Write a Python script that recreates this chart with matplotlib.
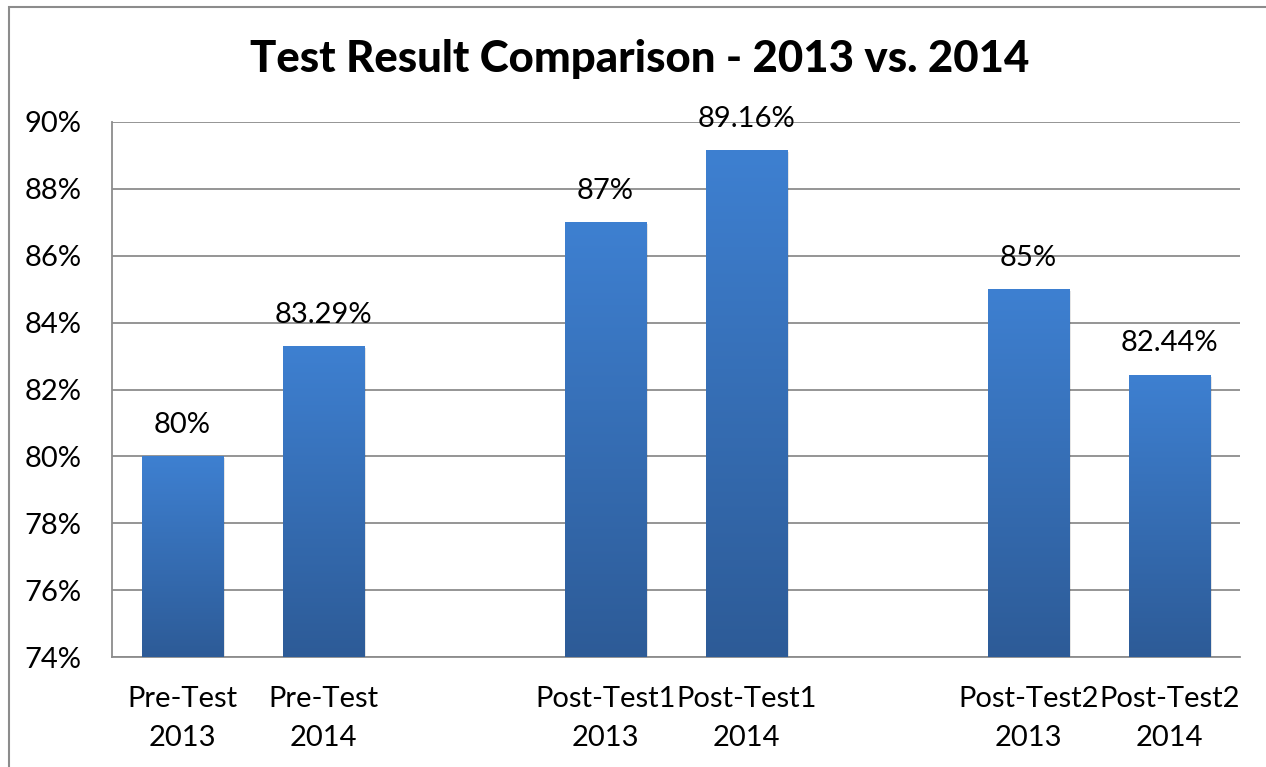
import matplotlib
matplotlib.use("Agg")
import matplotlib.pyplot as plt
import numpy as np
from matplotlib.colors import LinearSegmentedColormap
from matplotlib.patches import Rectangle

plt.rcParams['font.family'] = ['Lato', 'DejaVu Sans']

categories = ["Pre-Test\n2013", "Pre-Test\n2014", "", "Post-Test1\n2013", "Post-Test1\n2014",
              "", "Post-Test2\n2013", "Post-Test2\n2014"]
values = [80, 83.29, None, 87, 89.16, None, 85, 82.44]
value_labels = ["80%", "83.29%", "", "87%", "89.16%", "", "85%", "82.44%"]
y_ticks = [74, 76, 78, 80, 82, 84, 86, 88, 90]
y_tick_labels = ["74%", "76%", "78%", "80%", "82%", "84%", "86%", "88%", "90%"]
title = "Test Result Comparison - 2013 vs. 2014"

fig = plt.figure(figsize=(12.66, 7.67), dpi=100)
ax = fig.add_axes([112/1266, 1-657/767, (1240-112)/1266, (657-122)/767])

x = np.arange(len(categories))
heights = [v if v is not None else np.nan for v in values]
ymin = 74
bars = ax.bar(x, [h - ymin if not np.isnan(h) else 0 for h in heights], bottom=ymin,
              width=0.58, color='none', edgecolor='none', zorder=3)

cmap = LinearSegmentedColormap.from_list("g", ["#2D5B97", "#3E80D1"])
grad = np.linspace(0, 1, 256).reshape(-1, 1)
for b, h in zip(bars, heights):
    if np.isnan(h):
        continue
    x0, y0, w, hh = b.get_x(), b.get_y(), b.get_width(), b.get_height()
    sh = Rectangle((x0 + 0.012, y0 - 0.03), w, hh - 0.03, facecolor='#000000', alpha=0.10,
                   edgecolor='none', zorder=2)
    ax.add_patch(sh)
    im = ax.imshow(grad, extent=[x0, x0 + w, y0, y0 + hh], origin='lower', cmap=cmap,
                   aspect='auto', zorder=3, interpolation='bicubic')
    clip = Rectangle((x0, y0), w, hh, transform=ax.transData)
    im.set_clip_path(clip)

for xi, h, lab in zip(x, heights, value_labels):
    if np.isnan(h):
        continue
    ax.text(xi, h + 0.55, lab, ha='center', va='bottom', fontsize=21, color='black', zorder=4)

ax.set_xlim(-0.5, len(categories) - 0.5)
ax.set_ylim(74, 90)
ax.set_yticks(y_ticks)
ax.set_yticklabels(y_tick_labels, fontsize=21)
ax.set_xticks(x)
ax.set_xticklabels(categories, fontsize=21, linespacing=1.62)
ax.tick_params(axis='both', length=0)
ax.tick_params(axis='y', pad=22)
ax.tick_params(axis='x', pad=21)

ax.yaxis.grid(True, color='#8C8C8C', linewidth=1.3, zorder=0)
ax.set_axisbelow(True)
for s in ['top', 'right']:
    ax.spines[s].set_visible(False)
ax.spines['left'].set_color('#8C8C8C')
ax.spines['bottom'].set_color('#8C8C8C')
ax.spines['left'].set_linewidth(1.3)
ax.spines['bottom'].set_linewidth(1.3)

fig.text(640/1266, 1-59/767, title, ha='center', va='center', fontsize=31.5, fontweight='black')

border = Rectangle((9/1266, -0.02), 1.2, 1-7/767 + 0.02, transform=fig.transFigure,
                   fill=False, edgecolor='#8C8C8C', linewidth=1.5)
fig.patches.append(border)

fig.savefig("out.png", dpi=100)
